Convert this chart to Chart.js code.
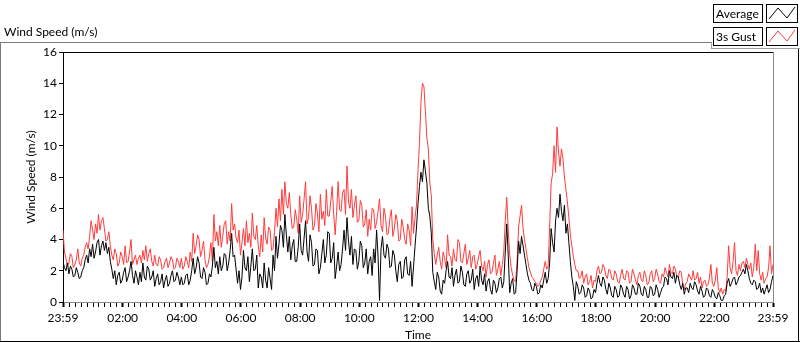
<!DOCTYPE html>
<html>
<head>
<meta charset="utf-8">
<script src="https://cdn.jsdelivr.net/npm/chart.js@4"></script>
<style>
  html, body { margin: 0; padding: 0; background: #fff; }
  #wrap { position: relative; width: 800px; height: 342px; }
</style>
</head>
<body>
<div id="wrap"><canvas id="windChart" width="800" height="342"></canvas></div>
<script>
"use strict";

// one sample every 3 minutes, starting at 23:59 of the previous day
var sampleMinutes = 3;

var avgSpeed = [
  2.6, 2.2, 2.0, 2.5, 1.8, 2.3, 2.1, 1.6, 1.7, 2.2,
  1.9, 1.5, 1.6, 2.0, 2.2, 2.7, 3.0, 2.5, 3.4, 2.9,
  3.7, 2.8, 3.2, 3.8, 4.0, 3.0, 3.6, 3.9, 3.3, 3.8,
  3.1, 3.5, 2.6, 2.1, 1.5, 2.0, 1.1, 1.7, 1.9, 1.2,
  1.4, 1.9, 2.2, 1.3, 1.6, 2.0, 2.6, 1.7, 1.2, 2.0,
  1.6, 1.1, 1.9, 1.3, 2.5, 1.6, 1.4, 2.3, 2.1, 1.4,
  1.6, 2.0, 1.0, 1.5, 1.8, 1.1, 1.3, 1.8, 0.9, 1.4,
  1.7, 1.0, 1.2, 1.7, 2.0, 1.3, 1.4, 1.9, 1.6, 1.1,
  1.6, 1.1, 1.2, 1.7, 1.8, 1.1, 1.4, 2.0, 2.8, 1.8,
  2.2, 2.9, 2.5, 1.6, 1.5, 2.2, 1.9, 1.1, 1.2, 1.8,
  1.6, 2.3, 3.5, 2.2, 2.6, 1.8, 2.9, 2.0, 2.3, 3.1,
  3.0, 2.0, 2.5, 3.3, 4.4, 2.9, 3.0, 2.1, 1.2, 2.0,
  0.8, 1.6, 3.3, 2.2, 2.0, 2.9, 1.3, 2.3, 3.4, 2.0,
  2.1, 3.0, 0.9, 1.8, 1.6, 0.9, 2.5, 1.4, 0.9, 2.2,
  1.5, 0.8, 3.0, 2.0, 4.2, 2.8, 3.7, 4.9, 4.6, 3.5,
  5.6, 4.3, 3.2, 4.2, 2.7, 3.6, 4.0, 2.6, 2.6, 3.5,
  5.0, 3.3, 3.0, 4.1, 5.2, 3.2, 2.6, 4.3, 3.8, 2.3,
  2.4, 3.4, 3.3, 1.8, 2.2, 3.1, 4.0, 2.5, 3.0, 4.5,
  4.4, 2.5, 2.8, 3.8, 1.5, 2.3, 3.2, 2.0, 2.4, 3.4,
  4.6, 3.3, 5.4, 3.9, 3.0, 4.2, 2.4, 3.4, 3.3, 2.1,
  2.6, 3.9, 3.6, 2.2, 2.5, 3.4, 1.8, 2.6, 2.9, 1.7,
  3.4, 2.5, 4.6, 2.9, 0.1, 3.4, 4.2, 3.0, 2.8, 3.7,
  3.4, 2.2, 2.3, 3.3, 3.0, 2.0, 1.3, 2.4, 2.6, 1.5,
  1.6, 2.7, 2.9, 1.8, 1.7, 2.6, 1.0, 2.3, 3.6, 4.8,
  6.3, 7.4, 8.3, 7.7, 9.1, 8.4, 7.6, 6.0, 5.5, 4.4,
  1.9, 1.3, 0.8, 1.9, 1.6, 0.7, 0.5, 1.4, 1.2, 2.0,
  2.6, 1.6, 1.5, 2.2, 1.0, 1.7, 2.1, 1.2, 1.3, 2.3,
  1.9, 1.1, 1.0, 1.8, 2.0, 1.2, 1.4, 2.1, 0.8, 1.5,
  1.7, 1.0, 2.3, 1.4, 1.1, 1.8, 0.7, 1.3, 1.5, 0.8,
  0.5, 1.4, 1.2, 0.6, 0.9, 1.5, 1.6, 0.9, 1.3, 3.2,
  5.0, 3.0, 0.6, 1.2, 1.5, 0.5, 0.6, 2.0, 3.9, 3.1,
  4.2, 3.6, 3.0, 2.4, 1.8, 1.4, 1.2, 0.8, 0.7, 1.2,
  1.0, 0.5, 0.6, 1.1, 0.9, 1.4, 1.9, 1.2, 1.5, 2.5,
  4.7, 3.8, 3.2, 5.2, 6.0, 5.4, 6.9, 5.8, 5.2, 6.2,
  4.4, 5.0, 3.8, 2.6, 1.6, 1.0, 0.1, 1.3, 1.0, 0.5,
  0.6, 1.1, 0.9, 0.3, 0.4, 0.9, 0.7, 0.2, 0.3, 0.8,
  0.6, 1.2, 1.7, 1.2, 1.0, 1.6, 1.4, 0.8, 0.5, 1.2,
  0.9, 0.4, 0.3, 1.0, 0.8, 0.3, 0.4, 1.1, 0.9, 0.5,
  0.3, 1.0, 0.8, 0.2, 0.4, 1.1, 0.9, 0.5, 0.5, 1.2,
  1.0, 0.5, 0.4, 1.0, 0.8, 0.3, 0.3, 1.0, 0.9, 0.4,
  0.5, 1.1, 0.8, 0.3, 0.6, 0.9, 1.0, 1.6, 1.5, 1.1,
  2.0, 1.6, 1.5, 1.9, 1.2, 1.7, 1.6, 1.1, 0.8, 1.2,
  0.5, 0.9, 0.9, 0.6, 1.2, 0.9, 0.8, 1.3, 1.1, 0.7,
  0.5, 1.0, 0.7, 0.3, 0.4, 0.9, 0.8, 0.4, 0.3, 0.8,
  0.6, 0.3, 0.2, 0.6, 0.4, 0.1, 0.1, 0.4, 0.5, 1.2,
  1.5, 1.0, 1.2, 1.5, 1.6, 1.1, 1.3, 1.6, 1.7, 1.9,
  2.1, 1.8, 2.4, 2.0, 1.5, 1.2, 1.1, 1.4, 1.3, 0.8,
  0.9, 1.2, 0.6, 0.9, 0.5, 0.8, 1.1, 0.6, 0.8, 1.3,
  1.7
];

var gustSpeed = [
  4.6, 3.2, 2.8, 2.3, 2.5, 3.1, 2.9, 2.2, 2.4, 2.7,
  3.4, 2.5, 2.3, 2.8, 3.0, 3.5, 3.8, 3.4, 4.2, 5.2,
  4.6, 4.0, 5.0, 4.4, 5.6, 4.6, 5.2, 5.4, 4.7, 3.9,
  4.0, 4.5, 3.6, 3.0, 2.7, 3.4, 3.1, 2.3, 2.5, 3.2,
  2.9, 2.4, 3.6, 2.5, 2.6, 3.2, 4.0, 2.4, 2.7, 3.0,
  2.4, 2.8, 3.0, 2.5, 3.3, 2.7, 3.6, 2.6, 3.1, 3.4,
  2.6, 2.3, 3.0, 2.4, 2.3, 2.9, 2.7, 2.1, 2.2, 2.6,
  2.8, 2.2, 2.5, 2.9, 2.7, 2.1, 2.2, 2.8, 2.6, 2.2,
  2.8, 2.1, 2.3, 2.9, 2.6, 2.2, 3.2, 2.6, 4.4, 3.1,
  3.6, 4.3, 4.0, 2.9, 3.3, 3.9, 2.7, 2.2, 2.4, 2.9,
  3.8, 2.6, 5.6, 3.9, 4.5, 3.6, 4.9, 3.5, 4.2, 5.0,
  5.2, 3.7, 4.5, 3.9, 6.3, 4.6, 5.0, 4.1, 3.8, 4.6,
  3.0, 3.8, 4.7, 3.6, 5.2, 3.8, 4.4, 3.5, 5.7, 4.2,
  4.0, 4.9, 3.6, 2.9, 4.3, 3.2, 5.4, 4.1, 3.7, 4.8,
  4.6, 3.3, 3.4, 4.5, 6.0, 4.8, 6.6, 5.2, 7.2, 5.6,
  7.7, 6.3, 6.0, 7.0, 5.6, 4.7, 4.8, 5.9, 5.3, 4.4,
  6.8, 5.1, 5.6, 6.6, 7.7, 5.0, 5.4, 6.8, 6.0, 4.6,
  4.9, 6.3, 5.7, 4.5, 6.9, 5.3, 5.8, 4.9, 7.2, 5.5,
  5.5, 6.4, 7.4, 5.6, 4.3, 5.8, 7.7, 5.9, 5.8, 7.0,
  7.2, 5.6, 8.7, 6.4, 6.0, 7.2, 5.4, 6.2, 6.8, 5.1,
  5.2, 6.5, 6.2, 4.8, 5.0, 5.9, 4.2, 5.3, 4.6, 6.0,
  5.9, 4.7, 5.1, 5.8, 6.6, 4.9, 4.5, 6.0, 5.5, 4.3,
  4.4, 5.4, 5.9, 4.2, 4.7, 5.6, 5.2, 3.9, 4.0, 5.3,
  4.8, 4.0, 3.7, 5.0, 4.6, 3.6, 6.1, 4.4, 5.4, 6.2,
  8.4, 10.2, 12.8, 14.0, 13.8, 12.2, 10.5, 9.8, 7.6, 6.8,
  4.0, 3.1, 2.4, 3.0, 3.5, 2.6, 2.1, 3.2, 2.8, 2.2,
  4.3, 3.0, 2.9, 2.3, 3.4, 2.7, 2.6, 4.0, 3.8, 2.6,
  2.5, 3.1, 3.7, 2.4, 2.8, 3.3, 2.2, 2.9, 3.0, 2.1,
  2.4, 2.9, 3.3, 2.3, 2.0, 2.6, 1.6, 2.4, 2.7, 1.8,
  1.9, 2.5, 3.0, 1.7, 2.1, 2.6, 1.7, 2.4, 3.2, 5.2,
  6.7, 4.6, 3.0, 2.2, 1.7, 1.4, 1.3, 2.6, 4.8, 5.5,
  6.2, 4.7, 4.0, 3.4, 2.8, 2.2, 1.9, 1.6, 1.5, 1.3,
  1.2, 1.0, 1.1, 1.4, 1.6, 2.1, 2.6, 2.1, 2.3, 4.8,
  7.6, 8.2, 10.0, 8.3, 11.2, 9.6, 8.7, 9.8, 9.2, 8.0,
  7.2, 6.4, 5.4, 4.3, 3.6, 2.9, 2.4, 2.0, 2.0, 1.5,
  1.6, 2.0, 1.2, 1.6, 1.8, 1.1, 1.3, 1.7, 0.9, 1.4,
  1.3, 2.0, 2.3, 1.8, 1.9, 2.4, 2.2, 1.7, 1.5, 2.1,
  2.0, 1.5, 1.4, 2.0, 1.8, 1.3, 1.2, 1.7, 2.1, 1.5,
  1.4, 2.0, 1.9, 1.2, 1.3, 2.1, 1.8, 1.4, 1.1, 1.7,
  1.9, 1.4, 1.3, 2.0, 1.7, 1.1, 1.2, 1.8, 2.0, 1.3,
  1.5, 2.1, 1.8, 1.3, 1.2, 1.8, 1.6, 2.2, 1.9, 1.6,
  2.4, 1.9, 1.8, 2.3, 2.1, 1.6, 1.6, 2.0, 1.9, 1.1,
  0.8, 1.2, 1.3, 1.8, 1.6, 1.4, 2.0, 1.4, 1.5, 1.9,
  1.2, 1.6, 0.9, 1.3, 1.4, 1.0, 1.1, 1.5, 2.4, 1.2,
  1.0, 1.4, 2.2, 0.9, 0.6, 0.9, 0.5, 0.8, 0.7, 1.6,
  3.6, 2.2, 1.8, 2.6, 3.8, 2.0, 1.7, 2.4, 2.0, 2.5,
  2.6, 2.2, 2.8, 2.4, 2.1, 2.5, 1.6, 2.2, 3.7, 2.0,
  3.3, 1.8, 1.4, 1.9, 1.2, 1.5, 1.6, 2.2, 3.6, 1.8,
  2.4
];

// labelled ticks on the time axis (minutes after the first sample)
var timeTickMinutes = [0, 121, 241, 361, 481, 601, 721, 841, 961, 1081, 1201, 1321, 1440];
var timeTickLabels = ['23:59', '02:00', '04:00', '06:00', '08:00', '10:00', '12:00',
                      '14:00', '16:00', '18:00', '20:00', '22:00', '23:59'];
var minorTickStep = 12;

var seriesNames = ['Average', '3s Gust'];
var seriesColors = ['#000000', '#ff3c3c'];

var uiFont = 'Lato, "Noto Sans", sans-serif';

function eachItem(arr, fn) {
    for (var i = 0; i < arr.length; i++) fn(i, arr[i]);
}

function toPoints(values) {
    var points = [];
    eachItem(values, function (i, v) {
        points.push({ x: i * sampleMinutes, y: v });
    });
    return points;
}

function buildTimeTicks() {
    var vals = timeTickMinutes.slice();
    for (var m = 1 + minorTickStep; m < 1440; m += minorTickStep) {
        if (vals.indexOf(m) < 0) vals.push(m);
    }
    vals.sort(function (a, b) { return a - b; });
    return vals.map(function (v) { return { value: v }; });
}

function hline(ctx, x1, x2, y, color) {
    ctx.strokeStyle = color;
    ctx.beginPath();
    ctx.moveTo(x1, y + 0.5);
    ctx.lineTo(x2, y + 0.5);
    ctx.stroke();
}

function vline(ctx, x, y1, y2, color) {
    ctx.strokeStyle = color;
    ctx.beginPath();
    ctx.moveTo(x + 0.5, y1);
    ctx.lineTo(x + 0.5, y2);
    ctx.stroke();
}

// panel frame, title, plot border and the LabVIEW-like legend
var panelPlugin = {
    id: 'panel',
    beforeDraw: function (chart) {
        var ctx = chart.ctx;
        ctx.save();
        ctx.fillStyle = '#ffffff';
        ctx.fillRect(0, 0, chart.width, chart.height);
        ctx.restore();
    },
    afterDraw: function (chart) {
        var ctx = chart.ctx;
        var area = chart.chartArea;
        ctx.save();
        ctx.lineWidth = 1;

        // outer frame
        hline(ctx, 0, 712, 42, '#7a7a7a');
        vline(ctx, 0, 42, 342, '#7a7a7a');
        hline(ctx, 0, 800, 341, '#000000');
        vline(ctx, 798, 48, 342, '#000000');
        vline(ctx, 711, 42, 49, '#a0a0a0');
        hline(ctx, 711, 800, 48, '#a0a0a0');

        // plot border top/right
        hline(ctx, area.left, area.right, Math.round(area.top), '#000000');
        vline(ctx, Math.round(area.right), area.top, area.bottom, '#8a8a8a');

        // panel title
        ctx.fillStyle = '#000000';
        ctx.font = '12px ' + uiFont;
        ctx.textBaseline = 'middle';
        ctx.textAlign = 'left';
        ctx.fillText('Wind Speed (m/s)', 4, 32);

        // legend rows
        eachItem(seriesNames, function (i, name) {
            var top = 4 + i * 23;
            ctx.fillStyle = '#ffffff';
            ctx.fillRect(713, top, 49, 18);
            ctx.fillRect(766, top, 31, 18);
            ctx.strokeStyle = '#000000';
            ctx.strokeRect(713.5, top + 0.5, 49, 18);
            ctx.strokeRect(766.5, top + 0.5, 31, 18);
            ctx.fillStyle = '#000000';
            ctx.textAlign = 'left';
            ctx.fillText(name, 716, top + 10);
            ctx.strokeStyle = seriesColors[i];
            ctx.beginPath();
            ctx.moveTo(769, top + 15);
            ctx.lineTo(778, top + 4);
            ctx.lineTo(787, top + 14);
            ctx.lineTo(795, top + 3);
            ctx.stroke();
        });
        ctx.restore();
    }
};

const context = document.getElementById('windChart');
const windChart = new Chart(context, {
    type: 'line',
    data: {
        datasets: [{
            label: seriesNames[0],
            data: toPoints(avgSpeed),
            borderColor: seriesColors[0],
            borderWidth: 1,
            pointRadius: 0,
            tension: 0
        }, {
            label: seriesNames[1],
            data: toPoints(gustSpeed),
            borderColor: seriesColors[1],
            borderWidth: 1,
            pointRadius: 0,
            tension: 0
        }]
    },
    options: {
        responsive: false,
        animation: false,
        devicePixelRatio: 1,
        layout: { padding: { top: 52, right: 27, left: 0, bottom: 0 } },
        plugins: {
            legend: { display: false },
            tooltip: { enabled: false }
        },
        scales: {
            x: {
                type: 'linear',
                min: 0,
                max: 1440,
                afterFit: function (scale) { scale.height = 40; },
                afterBuildTicks: function (scale) { scale.ticks = buildTimeTicks(); },
                ticks: {
                    autoSkip: false,
                    maxRotation: 0,
                    padding: 4,
                    color: '#000000',
                    font: { family: uiFont, size: 12 },
                    callback: function (value) {
                        var k = timeTickMinutes.indexOf(value);
                        return k >= 0 ? timeTickLabels[k] : '';
                    }
                },
                grid: {
                    drawOnChartArea: false,
                    tickLength: 5,
                    tickColor: '#000000',
                    tickWidth: function (c) {
                        return c.tick && timeTickMinutes.indexOf(c.tick.value) >= 0 ? 2 : 1;
                    }
                },
                border: { color: '#8a8a8a', width: 1 },
                title: {
                    display: true,
                    text: 'Time',
                    color: '#000000',
                    font: { family: uiFont, size: 12 },
                    padding: { top: 0, bottom: 0 }
                }
            },
            y: {
                min: 0,
                max: 16,
                afterFit: function (scale) { scale.width = 63; },
                ticks: {
                    stepSize: 2,
                    padding: 2,
                    color: '#000000',
                    font: { family: uiFont, size: 12 }
                },
                grid: {
                    drawOnChartArea: false,
                    tickLength: 4,
                    tickColor: '#000000'
                },
                border: { color: '#000000', width: 1 },
                title: {
                    display: true,
                    text: 'Wind Speed (m/s)',
                    color: '#000000',
                    font: { family: uiFont, size: 12 },
                    padding: { top: 24, bottom: 0 }
                }
            }
        }
    },
    plugins: [panelPlugin]
});
</script>
</body>
</html>
